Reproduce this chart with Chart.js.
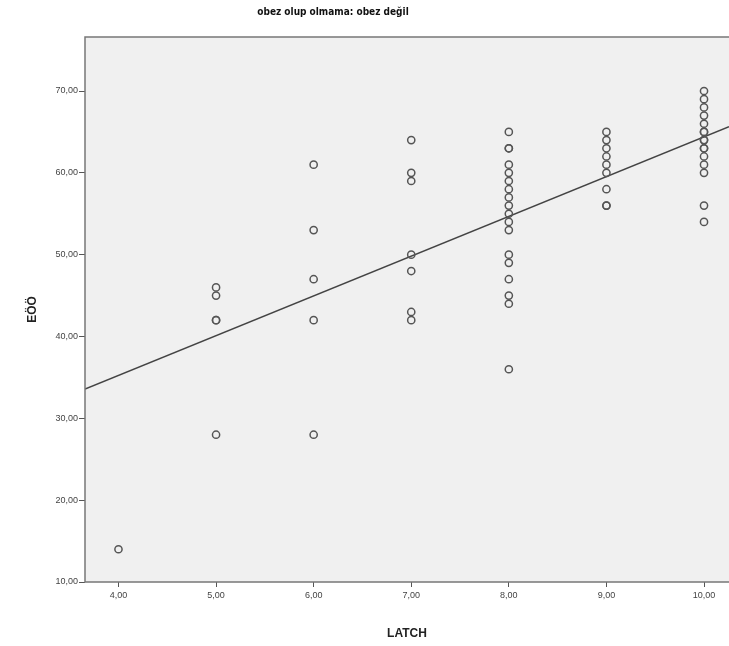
<!DOCTYPE html>
<html>
<head>
<meta charset="utf-8">
<script src="https://cdn.jsdelivr.net/npm/chart.js@4/dist/chart.umd.min.js"></script>
<style>
  body { margin: 0; background: #fff; overflow: hidden; }
  #wrap { width: 729px; height: 646px; position: relative; }
  canvas { display: block; }
</style>
</head>
<body>
<div id="wrap"><canvas id="scatter"></canvas></div>
<script>
// Chart data
const chartTitle = 'obez olup olmama: obez değil';
const xTitle = 'LATCH';
const yTitle = 'EÖÖ';

const xTicks = [4, 5, 6, 7, 8, 9, 10];
const yTicks = [10, 20, 30, 40, 50, 60, 70];
const xRange = [3.657, 10.256];
const yRange = [10, 76.6];

// EÖÖ values observed at each LATCH score
const eooAt4 = [14];
const eooAt5 = [46, 45, 42, 42, 28];
const eooAt6 = [61, 53, 47, 42, 28];
const eooAt7 = [64, 60, 59, 50, 48, 43, 42];
const eooAt8 = [65, 63, 63, 61, 60, 59, 58, 57, 56, 55, 54, 53, 50, 49, 47, 45, 44, 36];
const eooAt9 = [65, 64, 63, 62, 61, 60, 58, 56, 56];
const eooAt10 = [70, 69, 68, 67, 66, 65, 65, 64, 64, 63, 63, 62, 61, 60, 56, 54];

// fit line (linear)
const fitIntercept = 15.8;
const fitSlope = 4.86;

const groups = [
  [4, eooAt4], [5, eooAt5], [6, eooAt6], [7, eooAt7],
  [8, eooAt8], [9, eooAt9], [10, eooAt10]
];
const points = [];
groups.forEach(([x, list]) => {
  list.forEach(y => points.push({ x: x, y: y }));
});
const fitLine = xRange.map(x => ({ x: x, y: fitIntercept + fitSlope * x }));

function comma(v) {
  return Number(v).toFixed(2).replace('.', ',');
}

// plot area background, frame and title
const frame = {
  id: 'frame',
  beforeDatasetsDraw(chart) {
    const a = chart.chartArea;
    const ctx = chart.ctx;
    ctx.save();
    ctx.fillStyle = '#f0f0f0';
    ctx.fillRect(a.left, a.top, a.right - a.left, a.bottom - a.top);
    ctx.restore();
  },
  afterDraw(chart) {
    const a = chart.chartArea;
    const ctx = chart.ctx;
    ctx.save();
    ctx.strokeStyle = '#777';
    ctx.lineWidth = 1.5;
    ctx.strokeRect(a.left, a.top, a.right - a.left + 2, a.bottom - a.top);
    ctx.fillStyle = '#111';
    ctx.font = 'bold 10px "DejaVu Sans Condensed", "Liberation Sans", sans-serif';
    ctx.textAlign = 'center';
    ctx.textBaseline = 'middle';
    ctx.fillText(chartTitle, 333, 12);
    ctx.restore();
  }
};

const tickFont = { family: '"Liberation Sans Narrow", "Liberation Sans", sans-serif', size: 9 };

new Chart(document.getElementById('scatter'), {
  type: 'scatter',
  data: {
    datasets: [
      {
        label: 'EÖÖ',
        data: points,
        pointStyle: 'circle',
        pointRadius: 3.6,
        pointBorderWidth: 1.5,
        pointBorderColor: '#555',
        pointBackgroundColor: 'rgba(0,0,0,0)'
      },
      {
        type: 'line',
        label: 'fit',
        data: fitLine,
        borderColor: '#444',
        borderWidth: 1.5,
        pointRadius: 0,
        fill: false
      }
    ]
  },
  options: {
    responsive: true,
    maintainAspectRatio: false,
    animation: false,
    layout: { autoPadding: false, padding: { top: 37, right: 0, left: 0, bottom: 0 } },
    plugins: {
      legend: { display: false },
      tooltip: { enabled: false }
    },
    scales: {
      x: {
        type: 'linear',
        min: xRange[0],
        max: xRange[1],
        afterBuildTicks(scale) { scale.ticks = xTicks.map(v => ({ value: v })); },
        afterFit(scale) {
          scale.height = 64;
          scale.paddingLeft = 0;
          scale.paddingRight = 0;
        },
        border: { display: false },
        grid: { drawOnChartArea: false, drawTicks: true, tickLength: 5, tickColor: '#555' },
        ticks: { color: '#444', font: tickFont, padding: 3, maxRotation: 0, callback: v => comma(v) },
        title: { display: true, text: xTitle, color: '#222', font: { size: 12, weight: 'bold', family: '"Liberation Sans", sans-serif' }, padding: { top: 0, bottom: 5 } }
      },
      y: {
        type: 'linear',
        min: yRange[0],
        max: yRange[1],
        afterBuildTicks(scale) { scale.ticks = yTicks.map(v => ({ value: v })); },
        afterFit(scale) {
          scale.width = 85;
          scale.paddingTop = 0;
          scale.paddingBottom = 0;
        },
        border: { display: false },
        grid: { drawOnChartArea: false, drawTicks: true, tickLength: 6, tickColor: '#555' },
        ticks: { color: '#444', font: tickFont, padding: 1, callback: v => comma(v) },
        title: { display: true, text: yTitle, color: '#222', font: { size: 12, weight: 'bold', family: '"Liberation Sans", sans-serif' }, padding: { top: 25, bottom: 0 } }
      }
    }
  },
  plugins: [frame]
});
</script>
</body>
</html>
